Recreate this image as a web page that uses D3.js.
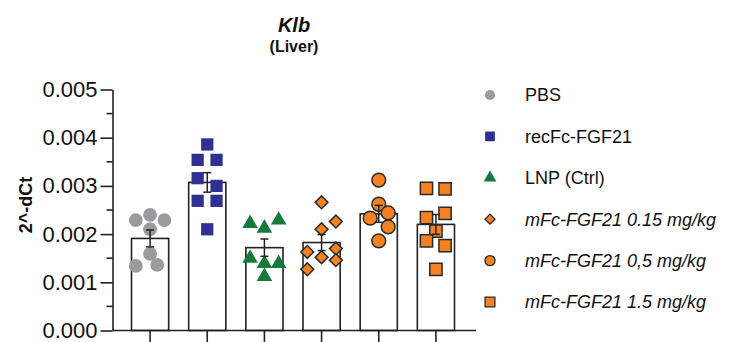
<!DOCTYPE html>
<html>
<head>
<meta charset="utf-8">
<script src="https://cdn.jsdelivr.net/npm/d3@7"></script>
<style>
  html, body { margin: 0; padding: 0; background: #fff; }
  svg { display: block; font-family: "Liberation Sans", Arial, sans-serif; }
</style>
</head>
<body>
<svg id="chart" width="730" height="342"></svg>
<script>
// ---- data ----
const categories = ["PBS", "recFc-FGF21", "LNP (Ctrl)", "mFc-FGF21 0.15 mg/kg", "mFc-FGF21 0,5 mg/kg", "mFc-FGF21 1.5 mg/kg"];
const italicLabel = [false, false, false, true, true, true];
const pbsValues   = [0.00229, 0.00240, 0.00229, 0.00210, 0.00159, 0.00134, 0.00136];
const pbsCols     = [-1, 0, 1, 0, 0, -1, 0.5];
const recValues   = [0.00386, 0.00354, 0.00354, 0.00316, 0.00300, 0.00269, 0.00269, 0.00210];
const recCols     = [0, -0.67, 0.65, -0.67, 0.65, -0.67, 0.65, 0];
const lnpValues   = [0.00222, 0.00212, 0.00229, 0.00150, 0.00139, 0.00139, 0.00112];
const lnpCols     = [-1, 0, 1, -1, 0, 1, 0];
const mfc015Values = [0.00266, 0.00226, 0.00210, 0.00163, 0.00152, 0.00170, 0.00146, 0.00127];
const mfc015Cols   = [0, 1, 0, -1, 0, 1, 1, -1];
const mfc05Values  = [0.00312, 0.00262, 0.00244, 0.00233, 0.00215, 0.00186];
const mfc05Cols    = [0, 0, 0.66, -0.6, 0.66, 0];
const mfc15Values  = [0.00295, 0.00294, 0.00234, 0.00243, 0.00206, 0.00186, 0.00176, 0.00127];
const mfc15Cols    = [-0.66, 0.64, -0.66, 0.64, 0, -0.66, 0.64, 0];
const yTicks = [0, 0.001, 0.002, 0.003, 0.004, 0.005];
const yMinorTicks = [0.0005, 0.0015, 0.0025, 0.0035, 0.0045];

const groups = [
  {values: pbsValues, cols: pbsCols, shape: "circle", fill: "#9b9b9d", stroke: "none"},
  {values: recValues, cols: recCols, shape: "square", fill: "#2e3192", stroke: "none"},
  {values: lnpValues, cols: lnpCols, shape: "triangle", fill: "#157a3a", stroke: "none"},
  {values: mfc015Values, cols: mfc015Cols, shape: "diamond", fill: "#f58220", stroke: "#2a2a2a"},
  {values: mfc05Values, cols: mfc05Cols, shape: "circle", fill: "#f58220", stroke: "#2a2a2a"},
  {values: mfc15Values, cols: mfc15Cols, shape: "square", fill: "#f58220", stroke: "#2a2a2a"}
];

// ---- layout ----
const svg = d3.select("#chart");
const x = d3.scaleBand().domain(categories).range([121.5, 464.5]).paddingInner(0.35).paddingOuter(0.175);
const y = d3.scaleLinear().domain([0, 0.005]).range([330.5, 89.5]);
const jitter = d3.scaleLinear().domain([-1, 1]).range([-14.3, 14.3]);
const axisColor = "#222";

function symbolPath(shape, big) {
  const map = {circle: d3.symbolCircle, square: d3.symbolSquare, triangle: d3.symbolTriangle, diamond: d3.symbolSquare};
  const sizes = big
    ? {circle: 150, square: 150, triangle: 105, diamond: 82}
    : {circle: 80, square: 95, triangle: 70, diamond: 50};
  return d3.symbol().type(map[shape]).size(sizes[shape])();
}
function rot(shape) { return shape === "diamond" ? " rotate(45)" : ""; }

// title
svg.append("text").attr("x", 294).attr("y", 32).attr("text-anchor", "middle")
  .attr("font-size", 20).attr("font-weight", "bold").attr("font-style", "italic").attr("fill", "#111").text("Klb");
svg.append("text").attr("x", 294).attr("y", 52).attr("text-anchor", "middle")
  .attr("font-size", 16).attr("font-weight", "bold").attr("fill", "#111").text("(Liver)");

// y axis
const yAxis = d3.axisLeft(y).tickValues(yTicks).tickFormat(d3.format(".3f")).tickSize(12).tickSizeOuter(0).tickPadding(3);
const yG = svg.append("g").attr("transform", "translate(112.5,0)").call(yAxis);
yG.selectAll("text").attr("font-size", 22).attr("fill", "#111");
yG.selectAll("line, path").attr("stroke", axisColor).attr("stroke-width", 1.6);
yG.selectAll(".minor").data(yMinorTicks).enter().append("line").attr("class", "minor")
  .attr("x1", -6).attr("x2", 0).attr("y1", d => y(d)).attr("y2", d => y(d))
  .attr("stroke", axisColor).attr("stroke-width", 1.6);

// y label
svg.append("text").attr("transform", "translate(32," + 205 + ") rotate(-90)")
  .attr("text-anchor", "middle").attr("font-size", 18).attr("font-weight", "bold").attr("fill", "#111").text("2^-dCt");

// bars
const stats = groups.map(g => ({
  mean: d3.mean(g.values),
  sem: d3.deviation(g.values) / Math.sqrt(g.values.length)
}));
svg.append("g").selectAll("rect").data(categories).enter().append("rect")
  .attr("x", d => x(d)).attr("width", x.bandwidth())
  .attr("y", (d, i) => y(stats[i].mean))
  .attr("height", (d, i) => y(0) - y(stats[i].mean))
  .attr("fill", "#fff").attr("stroke", axisColor).attr("stroke-width", 1.6);

// x axis
const xAxis = d3.axisBottom(x).tickSize(13).tickSizeOuter(0).tickFormat("");
const xG = svg.append("g").attr("transform", "translate(0," + y(0) + ")").call(xAxis);
xG.select("path").attr("d", "M" + 112.5 + ",0H476");
xG.selectAll("line, path").attr("stroke", axisColor).attr("stroke-width", 1.6);

// points
groups.forEach((g, gi) => {
  const cx = x(categories[gi]) + x.bandwidth() / 2;
  svg.append("g").selectAll("path").data(g.values).enter().append("path")
    .attr("d", symbolPath(g.shape, true))
    .attr("transform", (v, i) => "translate(" + (cx + jitter(g.cols[i])) + "," + y(v) + ")" + rot(g.shape))
    .attr("fill", g.fill).attr("stroke", g.stroke).attr("stroke-width", 1.5);
});

// error bars
const eb = svg.append("g");
stats.forEach((s, i) => {
  const cx = x(categories[i]) + x.bandwidth() / 2;
  const y1 = y(s.mean + s.sem), y2 = y(s.mean - s.sem);
  eb.append("line").attr("x1", cx).attr("x2", cx).attr("y1", y1).attr("y2", y2).attr("stroke", axisColor).attr("stroke-width", 1.5);
  [y1, y2].forEach(yy => eb.append("line").attr("x1", cx - 4).attr("x2", cx + 4).attr("y1", yy).attr("y2", yy).attr("stroke", axisColor).attr("stroke-width", 1.5));
});

// legend
const legendY = d3.scalePoint().domain(categories).range([95, 302]);
const lg = svg.append("g");
categories.forEach((c, i) => {
  const g = groups[i];
  lg.append("path").attr("d", symbolPath(g.shape, false))
    .attr("transform", "translate(490," + legendY(c) + ")" + rot(g.shape))
    .attr("fill", g.fill).attr("stroke", g.stroke).attr("stroke-width", 1.3);
  lg.append("text").attr("x", 525).attr("y", legendY(c)).attr("dy", "0.36em")
    .attr("font-size", 18).attr("font-style", italicLabel[i] ? "italic" : "normal")
    .attr("fill", "#111").text(c);
});
</script>
</body>
</html>
